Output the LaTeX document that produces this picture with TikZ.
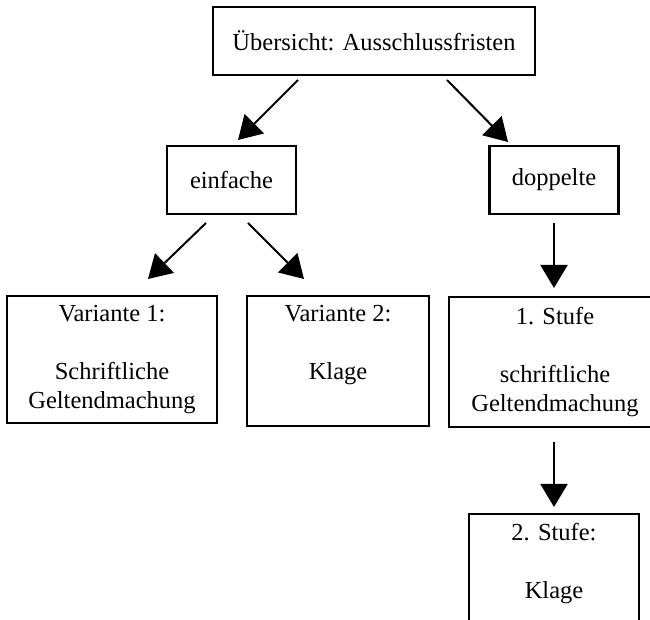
\documentclass[tikz,border=0pt]{standalone}
\usepackage{fontspec}
\setmainfont{Liberation Serif}
\usetikzlibrary{arrows.meta}

\begin{document}
\begin{tikzpicture}[x=1pt, y=1pt, >={Triangle[length=23pt,width=27pt]},
    font=\fontsize{24.5}{29}\selectfont,
    b/.style={draw, line width=2.5pt, align=center, inner sep=0pt, outer sep=0pt},
    a/.style={->, line width=2pt}]
    \clip (0,0) rectangle (650,620);

    \node[b, minimum width=322, minimum height=68] (top) at (374,579) {Übersicht: Ausschlussfristen};
    \node[b, minimum width=129, minimum height=68] (einf) at (231.5,440) {einfache};
    \node[b, minimum width=129, minimum height=68] (dopp) at (554,440) {doppelte};

    \node[b, minimum width=210, minimum height=127] (var1) at (112,260.5)
      {Variante 1:\\[29pt]Schriftliche\\Geltendmachung};
    \node[b, minimum width=182, minimum height=130] (var2) at (338,259)
      {Variante 2:\\[29pt]Klage\\\strut};
    \node[b, minimum width=212, minimum height=130] (st1) at (555,258)
      {1. Stufe\\[29pt]schriftliche\\Geltendmachung};
    \node[b, minimum width=170, minimum height=131] (st2) at (554,40.5)
      {2. Stufe:\\[29pt]Klage\\\strut};

    \draw[a] ([shift={(-76,-5)}]top.south) -- ([shift={(6.5,6)}]einf.north);
    \draw[a] ([shift={(73,-5)}]top.south) -- ([shift={(-46,4)}]dopp.north);
    \draw[a] ([shift={(-25.5,-9)}]einf.south) -- ([shift={(36,17)}]var1.north);
    \draw[a] ([shift={(16.5,-9)}]einf.south) -- ([shift={(-34,17)}]var2.north);
    \draw[a, shorten <=9pt, shorten >=9pt] (dopp.south) -- (dopp.south |- st1.north);
    \draw[a, shorten <=15pt, shorten >=7pt] (dopp.south |- st1.south) -- (dopp.south |- st2.north);
\end{tikzpicture}
\end{document}
